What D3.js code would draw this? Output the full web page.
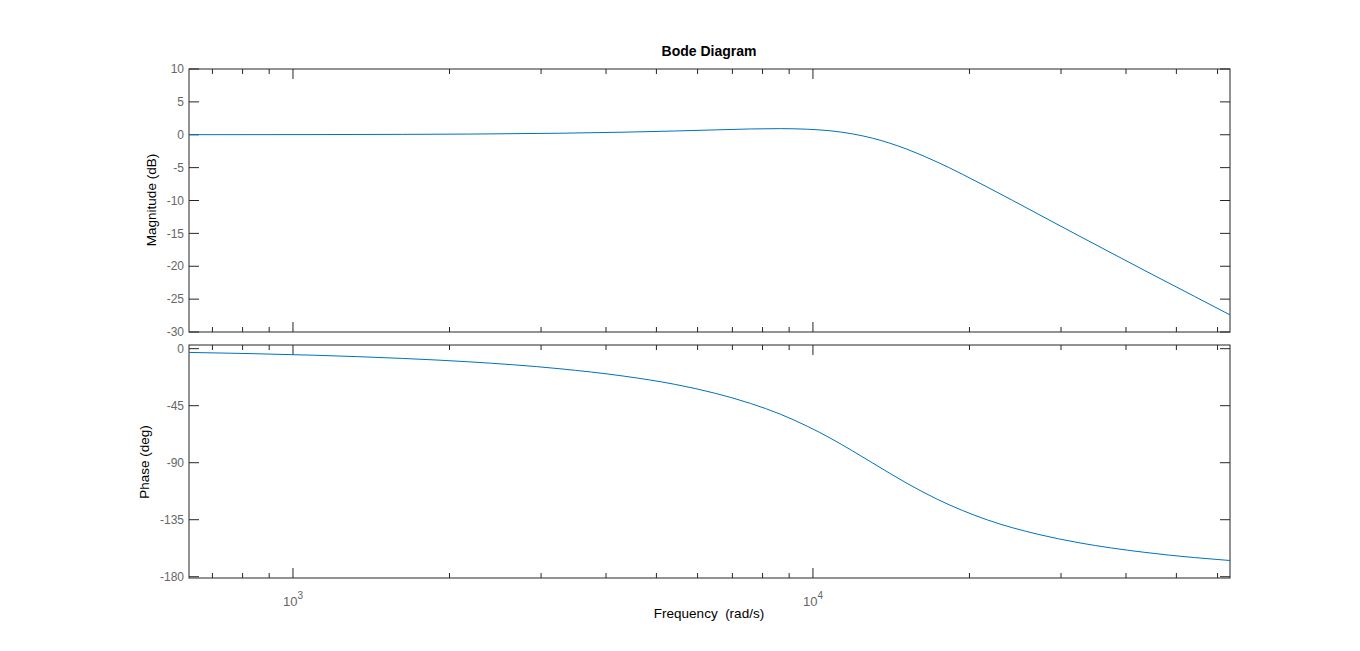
<!DOCTYPE html>
<html><head><meta charset="utf-8">
<script src="https://cdn.jsdelivr.net/npm/d3@7"></script>
<style>body{margin:0;background:#fff}</style>
</head><body><div class="chart-area"></div>
<script>
// frequency samples (rad/s)
const freqs = [631, 1083, 1625, 2167, 3250, 4333, 5417, 6500, 7583, 8667, 9750, 10833, 11917, 13000, 15167, 17333, 21667, 27083, 32500, 43333, 54167, 63400];
const magDb = [0.01, 0.026, 0.059, 0.10, 0.23, 0.39, 0.57, 0.74, 0.88, 0.93, 0.84, 0.59, 0.13, -0.51, -2.2, -4.15, -7.98, -12.05, -15.39, -20.6, -24.58, -27.4];
const phaseDeg = [-2.95, -5.1, -7.7, -10.3, -15.8, -21.7, -28.1, -35.3, -43.2, -51.8, -61.2, -70.9, -80.7, -90, -106.3, -118.8, -135.2, -146.5, -153.2, -160.7, -164.9, -167.2];
const magTicks = [10, 5, 0, -5, -10, -15, -20, -25, -30];
const phaseTicks = [0, -45, -90, -135, -180];
const decadeTicks = [1000, 10000];

const width = 1360, height = 651;
const left = 189, right = 1230;
const svg = d3.select(".chart-area").append("svg")
  .attr("width", width).attr("height", height)
  .style("font-family", "Arial, 'Liberation Sans', sans-serif");

const x = d3.scaleLog().domain([631, 63400]).range([left, right]);
const yMag = d3.scaleLinear().domain([-30, 10]).range([332, 69]);
const yPh = d3.scaleLinear().domain([-181, 2.9]).range([578, 345]);

// minor log ticks inside domain
const minor = [];
[100, 1000, 10000].forEach(d => { for (let k = 2; k <= 9; k++) { const v = d * k; if (v > 631 && v < 63400) minor.push(v); } });

function panel(y, ticks, top, bottom, data, labels) {
  const g = svg.append("g");
  g.append("rect").attr("x", left).attr("y", top).attr("width", right - left).attr("height", bottom - top)
    .attr("fill", "none").attr("stroke", "#262626").attr("stroke-width", 1);
  const tk = g.append("g").attr("stroke", "#262626");
  ticks.forEach(t => {
    tk.append("line").attr("x1", left).attr("x2", left + 10).attr("y1", y(t)).attr("y2", y(t));
    tk.append("line").attr("x1", right).attr("x2", right - 10).attr("y1", y(t)).attr("y2", y(t));
    g.append("text").attr("x", left - 5).attr("y", y(t)).attr("dy", "0.35em").attr("text-anchor", "end")
      .attr("font-size", 12).attr("fill", "#666").text(t);
  });
  decadeTicks.forEach(t => {
    tk.append("line").attr("x1", x(t)).attr("x2", x(t)).attr("y1", bottom).attr("y2", bottom - 10);
    tk.append("line").attr("x1", x(t)).attr("x2", x(t)).attr("y1", top).attr("y2", top + 10);
  });
  minor.forEach(t => {
    tk.append("line").attr("x1", x(t)).attr("x2", x(t)).attr("y1", bottom).attr("y2", bottom - 5);
    tk.append("line").attr("x1", x(t)).attr("x2", x(t)).attr("y1", top).attr("y2", top + 5);
  });
  const line = d3.line().x(d => x(d[0])).y(d => y(d[1])).curve(d3.curveMonotoneX);
  g.append("path").datum(freqs.map((f, i) => [f, data[i]])).attr("d", line)
    .attr("fill", "none").attr("stroke", "#0072BD").attr("stroke-width", 1);
  if (labels) {
    decadeTicks.forEach(t => {
      const tx = g.append("text").attr("x", x(t)).attr("y", bottom + 28).attr("text-anchor", "middle")
        .attr("font-size", 13).attr("fill", "#666");
      tx.append("tspan").text("10");
      tx.append("tspan").attr("dy", -7).attr("font-size", 10).text(Math.round(Math.log10(t)));
    });
  }
}

panel(yMag, magTicks, 69, 332, magDb, false);
panel(yPh, phaseTicks, 345, 578, phaseDeg, true);

svg.append("text").attr("x", 709).attr("y", 56).attr("text-anchor", "middle")
  .attr("font-size", 14).attr("font-weight", "bold").attr("fill", "#000").text("Bode Diagram");
svg.append("text").attr("transform", "translate(156,200) rotate(-90)").attr("text-anchor", "middle")
  .attr("font-size", 13.5).attr("fill", "#000").text("Magnitude (dB)");
svg.append("text").attr("transform", "translate(149,462) rotate(-90)").attr("text-anchor", "middle")
  .attr("font-size", 13.5).attr("fill", "#000").text("Phase (deg)");
svg.append("text").attr("x", 709).attr("y", 618).attr("text-anchor", "middle")
  .attr("font-size", 13.5).attr("fill", "#000").style("white-space", "pre").text("Frequency  (rad/s)");
</script></body></html>
